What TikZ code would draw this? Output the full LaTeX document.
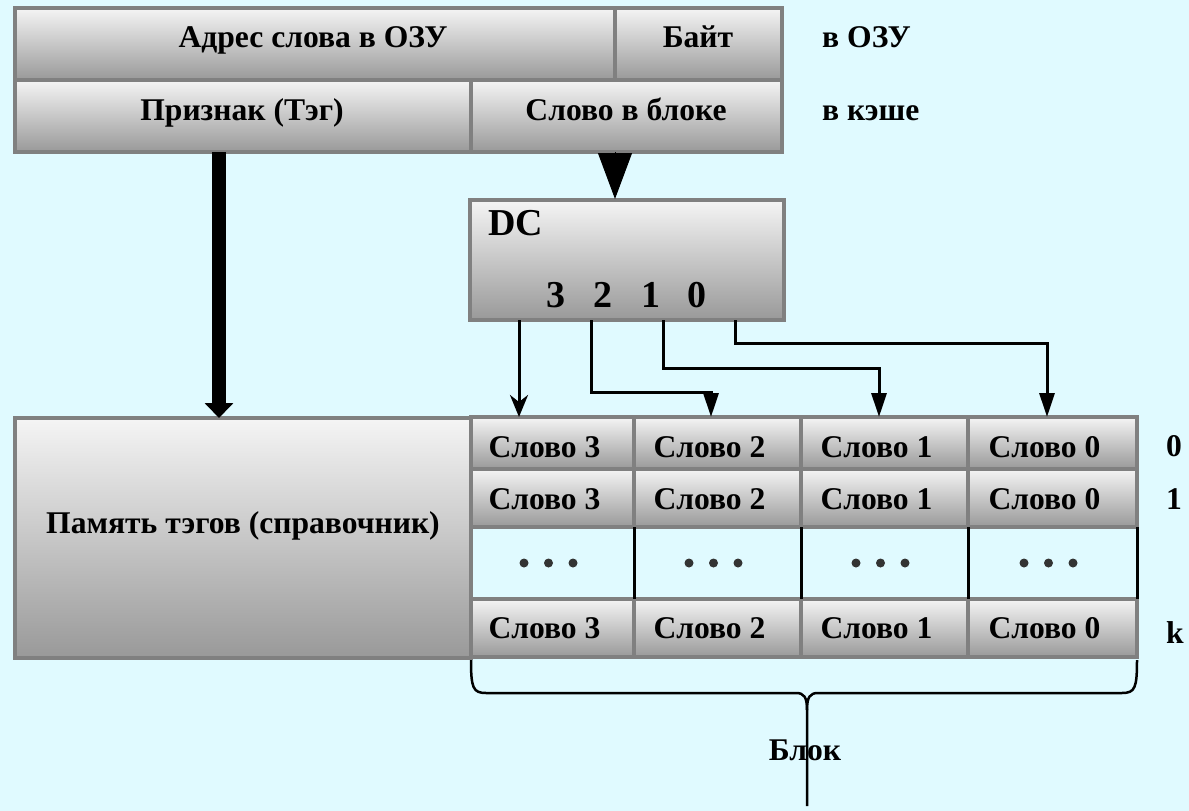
\documentclass[tikz,border=0pt]{standalone}
\usepackage{fontspec}
\setmainfont{Liberation Serif}
\usetikzlibrary{arrows.meta}
\definecolor{bg}{RGB}{224,250,255}
\definecolor{bord}{RGB}{128,128,128}
\definecolor{dotc}{RGB}{51,51,51}
\begin{document}
\begin{tikzpicture}[x=1pt,y=-1pt,
  box/.style={rectangle, draw=bord, line width=4pt, top color=white!96!black, bottom color=black!40, inner sep=0pt, outer sep=0pt},
  txt/.style={font=\fontsize{31.6}{38}\selectfont\bfseries, inner sep=0pt, anchor=base},
  big/.style={font=\fontsize{38}{44}\selectfont\bfseries, inner sep=0pt, anchor=base},
  conn/.style={line width=3pt, -{Triangle[width=15pt,length=24pt]}},
  sep/.style={line width=3pt, black}]
\fill[bg] (0,0) rectangle (1189,811);
\useasboundingbox (0,0) rectangle (1189,811);

% address rows
\node[box, minimum width=600pt, minimum height=72pt] (addr) at (315,44) {};
\node[box, minimum width=167pt, minimum height=72pt] (byte) at (698.5,44) {};
\node[box, minimum width=456pt, minimum height=72pt] (tag) at (243,116) {};
\node[box, minimum width=311pt, minimum height=72pt] (wib) at (626.5,116) {};
\node[txt] (taddr) at (313,47) {Адрес слова в ОЗУ};
\node[txt] (tbyte) at (698,47) {Байт};
\node[txt] (ttag) at (242,120) {Признак (Тэг)};
\node[txt] (twib) at (626,120) {Слово в блоке};
\node[txt, anchor=base west] (lram) at (822,47) {в ОЗУ};
\node[txt, anchor=base west] (lcache) at (822,120) {в кэше};

% decoder
\node[box, minimum width=314pt, minimum height=120pt] (dc) at (627,260) {};
\node[big, anchor=base west] (tdc) at (488,235) {DC};
\node[big] (d3) at (556,307) {3};
\node[big] (d2) at (603,307) {2};
\node[big] (d1) at (651,307) {1};
\node[big] (d0) at (697,307) {0};

% tag memory
\node[box, minimum width=456pt, minimum height=240pt] (mem) at (243,538) {};
\node[txt] (tmem) at (243,533) {Память тэгов (справочник)};

% cache lines
\foreach \r/\cy/\h/\bl in {0/443/52/457, 1/498/58/509, k/628/58/638}{
  \foreach \c/\cx/\w/\lab in {3/552.5/163/3, 2/717.5/167/2, 1/884.5/167/1, 0/1052.5/169/0}{
    \node[box, minimum width=\w pt, minimum height=\h pt] (c\r\c) at (\cx,\cy) {};
    \node[txt] (t\r\c) at (\cx-8,\bl) {Слово \lab};
  }
}
% dots row
\foreach \x in {634,801,968,1137}{
  \draw[sep] (\x,527) -- (\x,599);
}
\foreach \cx in {548.5,713.5,880.5,1048.5}{
  \foreach \d in {-24.5,0,24.5}{
    \fill[dotc] (\cx+\d,563) circle (4.5);
  }
}
% row labels
\node[txt] (l0) at (1174,456) {0};
\node[txt] (l1) at (1174,509) {1};
\node[txt] (lk) at (1175,643) {k};

% connectors
\coordinate (tagout) at (219,152);
\draw[line width=14pt, -{Triangle[width=28pt,length=15pt]}] (tagout) -- (tagout |- mem.north);
\coordinate (wibout) at (615,152);
\draw[line width=1pt, -{Triangle[width=34pt,length=46pt]}] (wibout) -- (615,199);

\coordinate (o3) at (519,320);
\coordinate (o2) at (591,320);
\coordinate (o1) at (663,320);
\coordinate (o0) at (735,320);
\coordinate (i3) at (519,417);
\coordinate (i2) at (711,417);
\coordinate (i1) at (879,417);
\coordinate (i0) at (1047,417);
\draw[line width=3pt, -{Stealth[width=18pt,length=22pt,inset=7pt]}] (o3) -- (i3);
\draw[conn] (o2) |- (711,392) -- (i2);
\draw[conn] (o1) |- (879,368) -- (i1);
\draw[conn] (o0) |- (1047,343) -- (i0);

% brace
\coordinate (bl) at (471,660);
\coordinate (br) at (1137,660);
\coordinate (bm) at (807,710);
\draw[line width=2.5pt] (bl) .. controls (471,688) and (473,693) .. (486,693) -- (796,693)
   .. controls (804,693) and (807,697) .. (bm) -- (807,806);
\draw[line width=2.5pt] (br) .. controls (1137,688) and (1135,693) .. (1122,693) -- (818,693)
   .. controls (810,693) and (807,697) .. (bm);
\node[txt] (tblock) at (805,760) {Блок};
\end{tikzpicture}
\end{document}
